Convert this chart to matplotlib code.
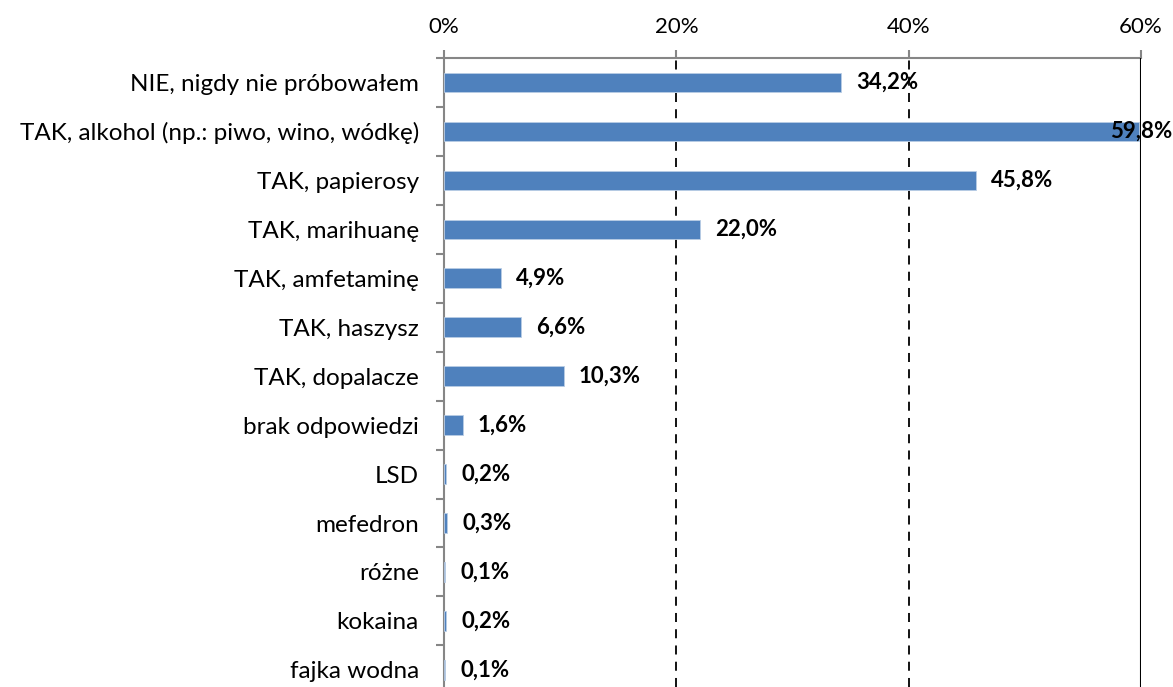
import numpy as np
import matplotlib.pyplot as plt
from matplotlib.ticker import FuncFormatter

plt.rcParams['font.family'] = ['Lato', 'DejaVu Sans']

categories = ["NIE, nigdy nie próbowałem", "TAK, alkohol (np.: piwo, wino, wódkę)",
              "TAK, papierosy", "TAK, marihuanę", "TAK, amfetaminę", "TAK, haszysz",
              "TAK, dopalacze", "brak odpowiedzi", "LSD", "mefedron", "różne",
              "kokaina", "fajka wodna"]
values = [34.2, 59.8, 45.8, 22.0, 4.9, 6.6, 10.3, 1.6, 0.2, 0.3, 0.1, 0.2, 0.1]
xticks = [0, 20, 40, 60]

fig = plt.figure(figsize=(11.73, 6.87), dpi=100)
ax = fig.add_axes([444/1173, 0, (1141-444)/1173, 1-58/687])

y = np.arange(len(categories))
ax.barh(y, values, height=0.4, color="#4f81bd", edgecolor="#b9cde5", linewidth=0.6, zorder=3)

ax.set_xlim(0, 60)
ax.set_ylim(12.35, -0.5)
ax.xaxis.tick_top()
ax.set_xticks(xticks)
ax.xaxis.set_major_formatter(FuncFormatter(lambda v, p: "%d%%" % v))
ax.tick_params(axis='x', length=6, width=1.5, color="#868686", labelsize=16, pad=9)
ax.set_yticks(y)
ax.set_yticklabels(categories, fontsize=17.5)
ax.set_yticks(np.arange(-0.5, 12.5, 1), minor=True)
ax.tick_params(axis='y', which='major', length=0, pad=18)
ax.tick_params(axis='y', which='minor', length=6, width=1.5, color="#868686")

for g in [20, 40]:
    ax.axvline(g, color="black", linestyle=(0, (5, 4)), linewidth=1.3, zorder=1)
ax.axvline(60, color="black", linewidth=1.5, zorder=4)

for s in ['right', 'bottom']:
    ax.spines[s].set_visible(False)
for s in ['top', 'left']:
    ax.spines[s].set_color("#868686")
    ax.spines[s].set_linewidth(1.5)

for yi, v in zip(y, values):
    txt = ("%.1f%%" % v).replace(".", ",")
    if v > 58:
        ax.annotate(txt, (v, yi), xytext=(24, 0), textcoords="offset points",
                    va="center", ha="right", fontsize=16, fontweight="bold", zorder=5,
                    annotation_clip=False)
    else:
        ax.annotate(txt, (v, yi), xytext=(11, 0), textcoords="offset points",
                    va="center", ha="left", fontsize=16, fontweight="bold", zorder=5)

fig.savefig("out.png", dpi=100)
